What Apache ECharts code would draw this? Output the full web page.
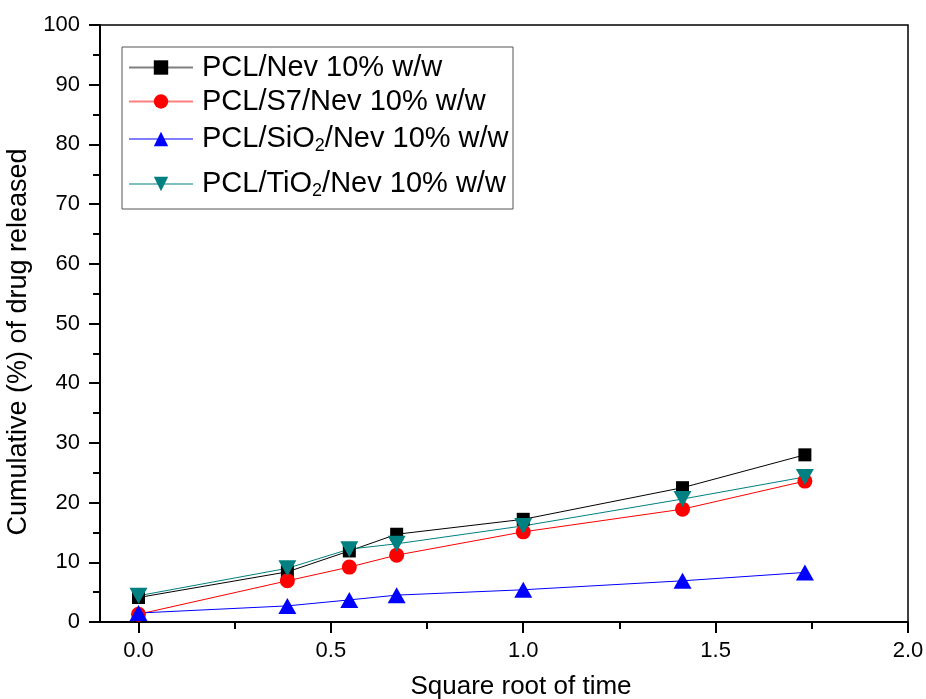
<!DOCTYPE html>
<html>
<head>
<meta charset="utf-8">
<script src="https://cdn.jsdelivr.net/npm/echarts@6/dist/echarts.min.js"></script>
<style>
html,body{margin:0;padding:0;background:#fff;}
#chart{width:926px;height:699px;}
</style>
</head>
<body>
<div id="chart"></div>
<script>
// ---- data ----
var timeRoot = [0, 0.387, 0.548, 0.671, 1.0, 1.414, 1.732];
var pclNev   = [4.1, 8.4, 11.9, 14.7, 17.2, 22.5, 28.0];
var pclS7    = [1.3, 6.9, 9.2, 11.2, 15.1, 18.9, 23.6];
var pclSiO2  = [1.5, 2.7, 3.7, 4.5, 5.4, 6.9, 8.3];
var pclTiO2  = [4.4, 9.0, 12.2, 13.1, 16.1, 20.6, 24.3];
var seriesNames = ['PCL/Nev 10% w/w', 'PCL/S7/Nev 10% w/w', 'PCL/SiO2/Nev 10% w/w', 'PCL/TiO2/Nev 10% w/w'];
var xMajorTicks = [0, 0.5, 1.0, 1.5, 2.0];
var xMinorTicks = [0.25, 0.75, 1.25, 1.75];
var yTicks = [0, 10, 20, 30, 40, 50, 60, 70, 80, 90, 100];

function pairs(ys){ return timeRoot.map(function(x,i){ return [x, ys[i]]; }); }

var FONT = 'Liberation Sans, Arial, sans-serif';
var colors = ['#000000', '#ff0000', '#0000ff', '#008080'];
var symbols = ['rect', 'circle', 'triangle', 'path://M0,0 L10,0 L5,8.66 Z'];
var sizes = [13, 15, [18, 16], [18, 16]];
var dataSets = [pclNev, pclS7, pclSiO2, pclTiO2];

function fmtName(name){
  var m = name.match(/^(.*?)(O)2(.*)$/);
  if (m) return '{t|' + m[1] + 'O}{s|2}{t|' + m[3] + '}';
  return '{t|' + name + '}';
}

var legendRows = [68, 102, 138, 183];
var legends = seriesNames.map(function(n, i){
  return {
    data: [n],
    left: 128,
    top: legendRows[i] - 15,
    orient: 'vertical',
    padding: 0,
    itemWidth: 64,
    itemHeight: 18,
    itemGap: 0,
    selectedMode: false,
    formatter: fmtName,
    lineStyle: {width: 2, opacity: 0.5},
    textStyle: {
      fontFamily: FONT, fontSize: 29, color: '#000', padding: [0,0,0,4],
      rich: {
        t: {fontFamily: FONT, fontSize: 29, color: '#000', lineHeight: 30},
        s: {fontFamily: FONT, fontSize: 18, color: '#000', lineHeight: 30, padding: [14,0,0,0]}
      }
    }
  };
});

var series = seriesNames.map(function(n, i){
  return {
    name: n,
    type: 'line',
    data: pairs(dataSets[i]),
    symbol: symbols[i],
    symbolSize: sizes[i],
    showSymbol: true,
    lineStyle: {color: colors[i], width: 1},
    itemStyle: {color: colors[i]},
    emphasis: {disabled: true},
    animation: false
  };
});

var chart = echarts.init(document.getElementById('chart'), null, {renderer: 'canvas'});
chart.setOption({
  animation: false,
  backgroundColor: '#fff',
  grid: {left: 100, right: 18, top: 25, bottom: 77, show: true, borderColor: '#000', borderWidth: 1.5,
    backgroundColor: 'transparent', containLabel: false, outerBoundsMode: 'none'},
  legend: legends,
  graphic: [{
    type: 'rect', shape: {x: 122, y: 47, width: 391, height: 162},
    style: {fill: 'none', stroke: '#555', lineWidth: 1}, z: 1
  }],
  xAxis: [{
    type: 'value', min: -0.1, max: 2.0,
    name: 'Square root of time', nameLocation: 'middle', nameGap: 52,
    nameTextStyle: {fontFamily: FONT, fontSize: 26, color: '#000', padding: [0, 0, 0, 34]},
    axisLine: {show: true, onZero: false, lineStyle: {color: '#000', width: 2}},
    axisTick: {show: true, customValues: xMajorTicks, length: 11, lineStyle: {color: '#000', width: 2}},
    axisLabel: {customValues: xMajorTicks, margin: 18, fontFamily: FONT, fontSize: 22, color: '#000',
      formatter: function(v){ return v.toFixed(1); }},
    splitLine: {show: false}
  }, {
    type: 'value', min: -0.1, max: 2.0, position: 'bottom', offset: 0,
    axisLine: {show: false, onZero: false},
    axisTick: {show: true, customValues: xMinorTicks, length: 7, lineStyle: {color: '#000', width: 2}},
    axisLabel: {show: false},
    splitLine: {show: false}
  }],
  yAxis: {
    type: 'value', min: 0, max: 100, interval: 10,
    name: 'Cumulative (%) of drug released', nameLocation: 'middle', nameGap: 64,
    nameTextStyle: {fontFamily: FONT, fontSize: 27, color: '#000', padding: [0, 37, 0, 0]},
    axisLine: {show: true, onZero: false, lineStyle: {color: '#000', width: 2}},
    axisTick: {show: true, length: 11, lineStyle: {color: '#000', width: 2}},
    minorTick: {show: true, splitNumber: 2, length: 7, lineStyle: {color: '#000', width: 2}},
    axisLabel: {margin: 20, fontFamily: FONT, fontSize: 22, color: '#000',
      customValues: yTicks},
    splitLine: {show: false},
    minorSplitLine: {show: false}
  },
  series: series
});
</script>
</body>
</html>
